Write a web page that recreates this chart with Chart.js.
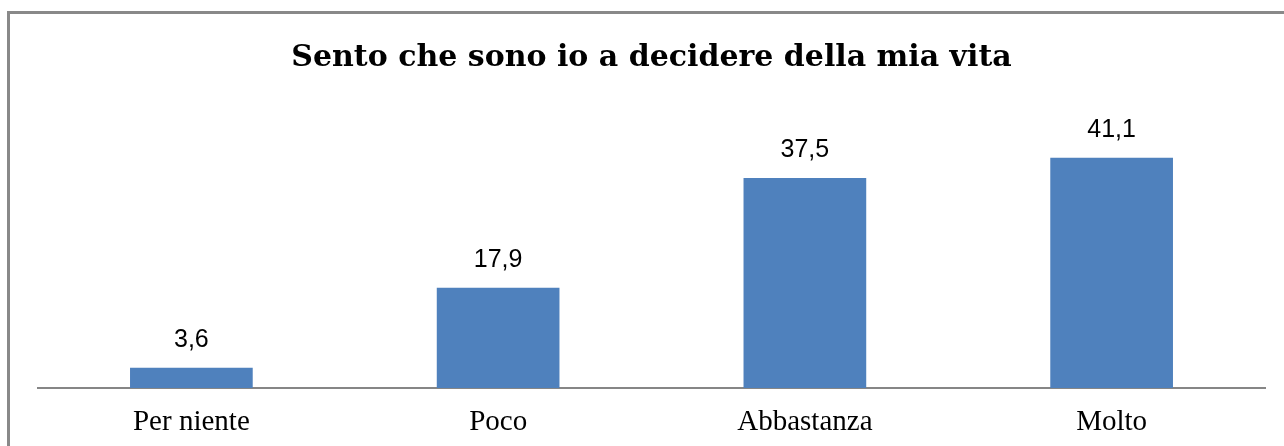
<!DOCTYPE html>
<html>
<head>
<meta charset="utf-8">
<script src="https://cdn.jsdelivr.net/npm/chart.js@4/dist/chart.umd.min.js"></script>
<style>
  html, body { margin: 0; padding: 0; background: #fff; overflow: hidden; }
  #wrap { position: relative; width: 1284px; height: 446px; }
  #frame { position: absolute; left: 7px; top: 11px; width: 1300px; height: 460px; border: 3px solid #898989; box-sizing: border-box; }
  canvas { position: absolute; left: 0; top: 0; }
</style>
</head>
<body>
<div id="wrap">
  <div id="frame"></div>
  <canvas id="c" width="1284" height="446"></canvas>
</div>
<script>
const titleText = "Sento che sono io a decidere della mia vita";
const categories = ["Per niente", "Poco", "Abbastanza", "Molto"];
const values = [3.6, 17.9, 37.5, 41.1];
const valueLabels = ["3,6", "17,9", "37,5", "41,1"];

const valueLabelPlugin = {
  id: 'valueLabels',
  afterDatasetsDraw(chart) {
    const ctx = chart.ctx;
    const meta = chart.getDatasetMeta(0);
    ctx.save();
    ctx.font = '25px "Liberation Sans", Arial, sans-serif';
    ctx.fillStyle = '#000';
    ctx.textAlign = 'center';
    ctx.textBaseline = 'middle';
    meta.data.forEach((bar, i) => {
      ctx.fillText(valueLabels[i], bar.x, bar.y - 28);
    });
    ctx.restore();
  }
};

new Chart(document.getElementById('c'), {
  type: 'bar',
  data: {
    labels: categories,
    datasets: [{
      data: values,
      backgroundColor: '#4F81BD',
      borderWidth: 0,
      barPercentage: 0.4,
      categoryPercentage: 1.0
    }]
  },
  options: {
    responsive: false,
    animation: false,
    events: [],
    layout: { padding: { left: 38, right: 19, top: 12, bottom: 0 } },
    plugins: {
      legend: { display: false },
      tooltip: { enabled: false },
      title: {
        display: true,
        text: titleText,
        color: '#000',
        font: { family: '"DejaVu Serif", serif', size: 30, weight: 'bold', lineHeight: 1.2 },
        padding: { top: 28, bottom: 60 }
      }
    },
    scales: {
      x: {
        grid: { display: false, drawTicks: false },
        border: { display: true, color: '#868686', width: 2 },
        ticks: {
          color: '#000',
          padding: 17,
          font: { family: '"Liberation Serif", "Times New Roman", serif', size: 29 }
        },
        afterFit(s) { s.height = 58; }
      },
      y: {
        display: false,
        min: 0,
        max: 45
      }
    }
  },
  plugins: [valueLabelPlugin]
});
</script>
</body>
</html>
